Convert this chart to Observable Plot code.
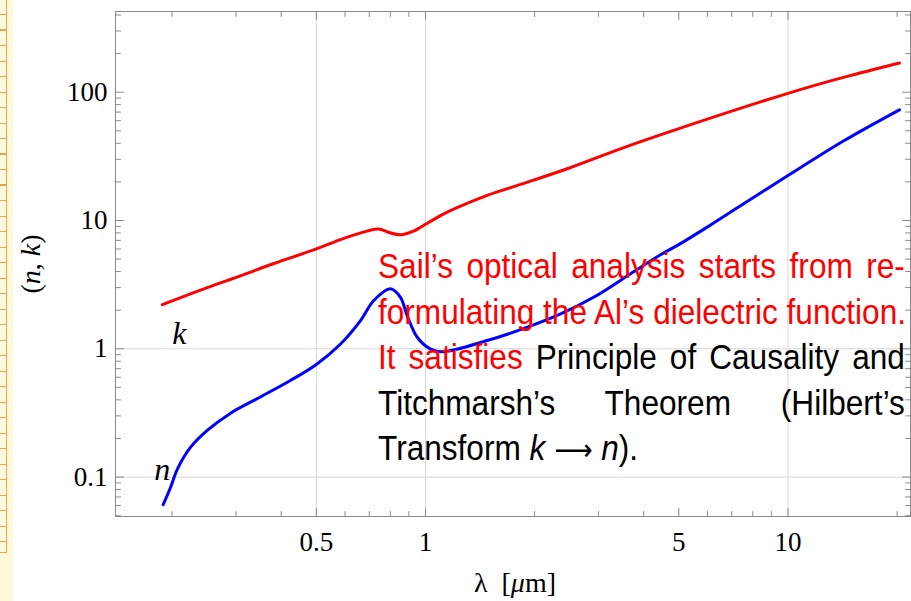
<!DOCTYPE html>
<html>
<head>
<meta charset="utf-8">
<script src="https://cdn.jsdelivr.net/npm/d3@7"></script>
<script src="https://cdn.jsdelivr.net/npm/@observablehq/plot@0.6"></script>
<style>
  html, body { margin: 0; padding: 0; background: #fff; }
  #wrap { position: relative; width: 911px; height: 601px; overflow: hidden; }
  #chart { position: absolute; left: 0; top: 0; }
  .strip { position: absolute; left: 0; top: 0; width: 13px; height: 601px; background: #fff9dc; }
  .ruler { position: absolute; left: 0; top: 0; width: 6px; height: 552px;
           border-right: 1.5px solid #e8a54e; border-bottom: 1.5px solid #e8a54e;
           background-image: repeating-linear-gradient(to bottom, transparent 0 14px, #e8a54e 14px 15.5px); }
  .ylabel { position: absolute; left: 31px; top: 264px; transform: translate(-50%, -50%) rotate(-90deg);
            font: 28px "Liberation Serif", "Times New Roman", serif; white-space: nowrap; color: #000; }
  .xlabel { position: absolute; left: 515px; top: 569px; transform: translateX(-50%);
            font: 28px/1 "Liberation Serif", "Times New Roman", serif; white-space: nowrap; color: #000; }
  .note { position: absolute; left: 378px; top: 244px; width: 592px;
          transform: scaleX(0.89); transform-origin: 0 0;
          font-family: "Liberation Sans", Arial, sans-serif;
          font-size: 35.5px; line-height: 45.5px; color: #000; }
  .note div { white-space: nowrap; text-align: justify; text-align-last: justify; }
  .note div.last { text-align-last: left; }
  .arrow { font-family: "DejaVu Sans", sans-serif; font-size: 30px; }
  .red { color: #ff0000; }
</style>
</head>
<body>
<div id="wrap">
  <div id="chart"></div>
  <div class="strip"><div class="ruler"></div></div>
  <div class="ylabel">(<i>n</i>, <i>k</i>)</div>
  <div class="xlabel">λ&nbsp; [<i>μ</i>m]</div>
  <div class="note">
    <div class="red">Sail’s optical analysis starts from re-</div>
    <div class="red">formulating the Al’s dielectric function.</div>
    <div><span class="red">It satisfies</span> Principle of Causality and</div>
    <div>Titchmarsh’s Theorem (Hilbert’s</div>
    <div class="last">Transform <i>k</i> <span class="arrow">⟶</span> <i>n</i>).</div>
  </div>
</div>
<script>
// wavelength (µm) and extinction coefficient k
const kLambda = [0.188, 0.25, 0.31, 0.38, 0.5, 0.58, 0.69, 0.743, 0.79, 0.853, 0.93, 0.97, 1.1, 1.2, 1.48, 1.83, 2.46, 3.45, 5.0, 10, 14.3, 20.3];
const kValues = [2.21, 3.0, 3.72, 4.6, 6.0, 7.07, 8.26, 8.6, 8.1, 7.74, 8.3, 8.87, 10.9, 12.3, 15.7, 19.1, 25.3, 36.2, 52, 98, 131, 169];
// wavelength (µm) and refractive index n
const nLambda = [0.189, 0.198, 0.207, 0.225, 0.25, 0.29, 0.343, 0.424, 0.5, 0.583, 0.662, 0.72, 0.80, 0.853, 0.89, 0.949, 1.03, 1.12, 1.48, 1.83, 2.36, 2.91, 3.76, 4.45, 5.05, 6.11, 8.05, 10, 14.3, 20.3];
const nValues = [0.061, 0.083, 0.116, 0.171, 0.231, 0.315, 0.408, 0.566, 0.755, 1.09, 1.66, 2.38, 2.94, 2.52, 1.82, 1.23, 1.0, 0.95, 1.16, 1.41, 1.87, 2.52, 4.0, 5.4, 6.6, 9.2, 15.2, 22.4, 42, 72.9];

const xMajor = [0.5, 1, 5, 10];
const xMinor = [0.2, 0.3, 0.4, 0.6, 0.7, 0.8, 0.9, 2, 3, 4, 6, 7, 8, 9, 20];
const yMajor = [0.1, 1, 10, 100];
const yMinor = [0.05, 0.06, 0.07, 0.08, 0.09, 0.2, 0.3, 0.4, 0.5, 0.6, 0.7, 0.8, 0.9,
                2, 3, 4, 5, 6, 7, 8, 9, 20, 30, 40, 50, 60, 70, 80, 90, 200, 300, 400];
const xGrid = [0.5, 1, 10];
const yGrid = [0.1, 1];

const kData = kLambda.map((l, i) => ({lambda: l, value: kValues[i]}));
const nData = nLambda.map((l, i) => ({lambda: l, value: nValues[i]}));

const tickShape = {draw(ctx, l) { ctx.moveTo(0, 0); ctx.lineTo(0, -l); }};
const frameColor = "#8a8a8a";
function ticks(data, ch, anchor, rot, len) {
  return Plot.vector(data, {[ch]: d => d, frameAnchor: anchor, rotate: rot, length: len,
    anchor: "start", shape: tickShape, stroke: frameColor, strokeWidth: 1});
}

const serif = "Liberation Serif, Times New Roman, serif";

const plot = Plot.plot({
  width: 911,
  height: 601,
  marginLeft: 115,
  marginRight: 1,
  marginTop: 11,
  marginBottom: 85,
  style: {fontFamily: serif, background: "transparent"},
  x: {type: "log", domain: [0.1396, 21.78], axis: null},
  y: {type: "log", domain: [0.0493, 425.6], axis: null},
  marks: [
    Plot.ruleX(xGrid, {stroke: "#d6d6d6", strokeWidth: 1}),
    Plot.ruleY(yGrid, {stroke: "#d6d6d6", strokeWidth: 1}),
    Plot.line(kData, {x: "lambda", y: "value", stroke: "#ff0000", strokeWidth: 3, curve: "catmull-rom"}),
    Plot.line(nData, {x: "lambda", y: "value", stroke: "#0000ff", strokeWidth: 3, curve: "catmull-rom"}),
    Plot.text(kData, Plot.selectFirst({x: "lambda", y: "value", text: () => "k", dx: 17, dy: 29,
      fontSize: 32, fontStyle: "italic", fontFamily: serif, fill: "#000"})),
    Plot.text(nData, Plot.selectFirst({x: "lambda", y: "value", text: () => "n", dx: -1, dy: -35,
      fontSize: 32, fontStyle: "italic", fontFamily: serif, fill: "#000"})),
    Plot.frame({stroke: frameColor, strokeWidth: 1}),
    ticks(xMajor, "x", "bottom", 0, 8),
    ticks(xMinor, "x", "bottom", 0, 5),
    ticks(xMajor, "x", "top", 180, 8),
    ticks(xMinor, "x", "top", 180, 5),
    ticks(yMajor, "y", "left", 90, 8),
    ticks(yMinor, "y", "left", 90, 5),
    ticks(yMajor, "y", "right", -90, 8),
    ticks(yMinor, "y", "right", -90, 5),
    Plot.text(xMajor, {x: d => d, frameAnchor: "bottom", dy: 15, lineAnchor: "top",
      text: d => String(d), fontSize: 27, fill: "#000"}),
    Plot.text(yMajor, {y: d => d, frameAnchor: "left", dx: -8, textAnchor: "end",
      text: d => String(d), fontSize: 27, fill: "#000"})
  ]
});
document.getElementById("chart").appendChild(plot);
</script>
</body>
</html>
